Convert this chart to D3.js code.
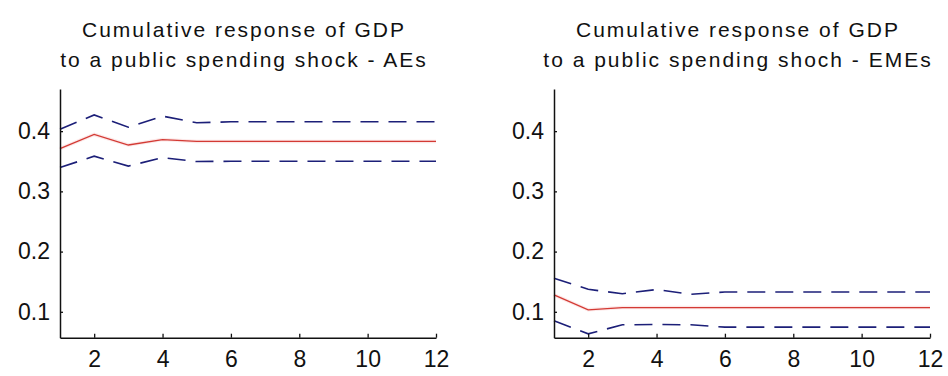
<!DOCTYPE html>
<html>
<head>
<meta charset="utf-8">
<script src="https://cdn.jsdelivr.net/npm/d3@7"></script>
<style>
  html, body { margin: 0; padding: 0; background: #ffffff; }
  svg { display: block; }
  .title { font-family: "Liberation Sans", Arial, sans-serif; font-size: 21px; letter-spacing: 2px; fill: #111; }
  .tick text { font-family: "Liberation Sans", Arial, sans-serif; font-size: 23px; fill: #111; }
</style>
</head>
<body>
<svg id="chart" width="948" height="376"></svg>
<script>
// Horizons (periods after the shock)
const horizons = [1, 2, 3, 4, 5, 6, 7, 8, 9, 10, 11, 12];

// Advanced economies: cumulative response and confidence band
const aesResponse = [0.371, 0.3945, 0.377, 0.386, 0.383, 0.383, 0.383, 0.383, 0.383, 0.383, 0.383, 0.383];
const aesUpper    = [0.403, 0.427, 0.4065, 0.425, 0.414, 0.4155, 0.4155, 0.4155, 0.4155, 0.4155, 0.4155, 0.4155];
const aesLower    = [0.3395, 0.3585, 0.342, 0.356, 0.3495, 0.350, 0.350, 0.350, 0.350, 0.350, 0.350, 0.350];

// Emerging market economies: cumulative response and confidence band
const emesResponse = [0.128, 0.1033, 0.107, 0.107, 0.107, 0.107, 0.107, 0.107, 0.107, 0.107, 0.107, 0.107];
const emesUpper    = [0.1557, 0.1374, 0.130, 0.137, 0.129, 0.133, 0.133, 0.133, 0.133, 0.133, 0.133, 0.133];
const emesLower    = [0.085, 0.0634, 0.0784, 0.079, 0.0784, 0.0745, 0.0745, 0.0745, 0.0745, 0.0745, 0.0745, 0.0745];

// Axis ticks
const xTicks = [2, 4, 6, 8, 10, 12];
const yTicks = [0.1, 0.2, 0.3, 0.4];
const yDomain = [0.057, 0.47];

const panels = [
  { left: 60,  right: 436, lines: ["Cumulative response of GDP", "to a public spending shock - AEs"],
    mid: aesResponse, hi: aesUpper, lo: aesLower },
  { left: 554, right: 930, lines: ["Cumulative response of GDP", "to a public spending shoch - EMEs"],
    mid: emesResponse, hi: emesUpper, lo: emesLower }
];

const svg = d3.select("#chart");
const plotTop = 89, plotBottom = 337.7;

panels.forEach(p => {
  const x = d3.scaleLinear().domain([1, 12]).range([p.left, p.right]);
  const y = d3.scaleLinear().domain(yDomain).range([plotBottom, plotTop]);
  const g = svg.append("g");

  // Two-line title
  const cx = (p.left + p.right) / 2 - 4;
  g.append("text").attr("class", "title").attr("text-anchor", "middle")
    .attr("x", cx).attr("y", 36.5).text(p.lines[0]);
  g.append("text").attr("class", "title").attr("text-anchor", "middle")
    .attr("x", cx).attr("y", 66.5).text(p.lines[1]);

  const line = d3.line().x((d, i) => x(horizons[i])).y(d => y(d));

  // Confidence bands (dashed)
  [p.hi, p.lo].forEach(arr => {
    g.append("path").datum(arr).attr("d", line)
      .attr("fill", "none").attr("stroke", "#1c1f78")
      .attr("stroke-width", 1.6).attr("stroke-dasharray", "18,10");
  });

  // Point estimate with a faint halo
  g.append("path").datum(p.mid).attr("d", line)
    .attr("fill", "none").attr("stroke", "rgba(240,150,150,0.22)").attr("stroke-width", 3.5);
  g.append("path").datum(p.mid).attr("d", line)
    .attr("fill", "none").attr("stroke", "#d33a34").attr("stroke-width", 1.3);

  // Axes: ticks pointing inward
  const xAxis = d3.axisBottom(x).tickValues(xTicks).tickFormat(d3.format("d"))
    .tickSizeInner(-4).tickSizeOuter(0).tickPadding(12);
  const gx = g.append("g").attr("transform", `translate(0,${plotBottom})`).call(xAxis);
  gx.select(".domain").attr("stroke", "#111").attr("stroke-width", 1.5);
  gx.selectAll(".tick line").attr("stroke", "#111").attr("stroke-width", 1.3);
  gx.selectAll(".tick text").attr("dy", "0.71em").attr("y", 13);

  const yAxis = d3.axisLeft(y).tickValues(yTicks).tickFormat(d3.format(".1f"))
    .tickSizeInner(-3).tickSizeOuter(0).tickPadding(10);
  const gy = g.append("g").attr("transform", `translate(${p.left},0)`).call(yAxis);
  gy.select(".domain").attr("stroke", "#111").attr("stroke-width", 1.5);
  gy.selectAll(".tick line").attr("stroke", "#111").attr("stroke-width", 1.3);
});

svg.selectAll("g").attr("font-family", null).attr("font-size", null);
</script>
</body>
</html>
